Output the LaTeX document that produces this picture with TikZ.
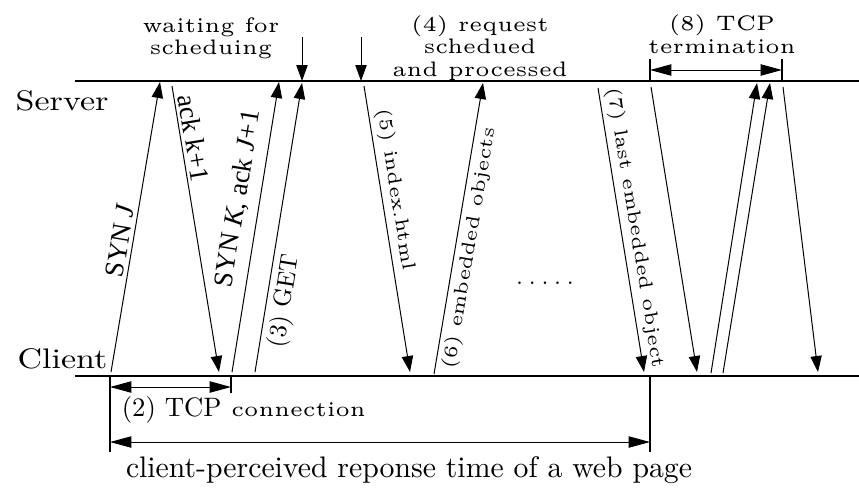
\documentclass[tikz,border=0pt]{standalone}
\usepackage{fontspec}
\newfontfamily\timesf{Liberation Serif}
\usetikzlibrary{arrows.meta}
\begin{document}
\begin{tikzpicture}[x=0.75pt,y=-0.75pt,
  hlab/.style={font=\fontsize{5}{5.36}\selectfont, scale=3.15, inner sep=0pt, align=center},
  plain/.style={font=\fontsize{10}{12}\selectfont, inner sep=0pt},
  rlab/.style={font=\fontsize{5}{6}\selectfont, scale=2.85, sloped, inner sep=0.9pt},
  tlab/.style={font=\timesf\fontsize{20.3}{24}\selectfont, sloped, inner sep=2.5pt},
  big/.style={font=\fontsize{10}{12}\selectfont, xscale=2.55, yscale=2.12, inner sep=0pt},
  axisline/.style={line width=1.1pt},
  msg/.style={line width=0.75pt, -{Triangle[length=12pt,width=8.5pt]}},
  dimarrow/.style={line width=0.75pt, {Triangle[length=16pt,width=8.5pt]}-{Triangle[length=16pt,width=8.5pt]}},
  tickline/.style={line width=1.1pt}]

\useasboundingbox (0,0) rectangle (859,487);
\fill[white] (0,0) rectangle (859,487);

% time lines
\coordinate (SL) at (75,81); \coordinate (SR) at (859,81);
\coordinate (CL) at (75,376); \coordinate (CR) at (859,376);
\draw[axisline] (SL) -- (SR);
\draw[axisline] (CL) -- (CR);
\node[big, anchor=base west] (server) at (15,110) {Server};
\node[big, anchor=base west] (client) at (17,368) {Client};

% end points of messages
\coordinate (c1) at (111,372);  \coordinate (s1) at (160,82);
\coordinate (s2) at (172,86);   \coordinate (c2) at (219,372);
\coordinate (c3) at (232,372);  \coordinate (s3) at (279,82);
\coordinate (c4) at (255,372);  \coordinate (s4) at (302,83);
\coordinate (w1) at (302,37);   \coordinate (w1e) at (302,81);
\coordinate (w2) at (361,37);   \coordinate (w2e) at (361,81);
\coordinate (s5) at (364,86);   \coordinate (c5) at (410,372);
\coordinate (c6) at (434,374);  \coordinate (s6) at (483,83);
\coordinate (s7) at (598,88);   \coordinate (c7) at (644,372);
\coordinate (s8) at (651,87);   \coordinate (c8) at (697,372);
\coordinate (c9) at (711,373);  \coordinate (s9) at (757,83);
\coordinate (c10) at (723,373); \coordinate (s10) at (770,83);
\coordinate (s11) at (783,87);  \coordinate (c11) at (818,372);

% messages
\draw[msg] (c1) -- node[tlab, pos=0.445, above] (synj) {SYN \textit{J}} (s1);
\draw[msg] (s2) -- node[tlab, pos=0.19, above] (ack) {ack k+1} (c2);
\draw[msg] (c3) -- node[tlab, pos=0.586, above, inner sep=7pt] (synk) {SYN \textit{K}, ack \textit{J}+1} (s3);
\draw[msg] (c4) -- node[plain, scale=1.85, sloped, pos=0.256, below, inner sep=2pt] (get) {(3) GET} (s4);
\draw[msg] (w1) -- (w1e);
\draw[msg] (w2) -- (w2e);
\draw[msg] (s5) -- node[rlab, pos=0.37, above] (index) {(5) index.html} (c5);
\draw[msg] (c6) -- node[rlab, pos=0.44, below] (emb) {(6) embedded objects} (s6);
\draw[msg] (s7) -- node[rlab, pos=0.5, above] (last) {(7) last embedded object} (c7);
\draw[msg] (s8) -- (c8);
\draw[msg] (c9) -- (s9);
\draw[msg] (c10) -- (s10);
\draw[msg] (s11) -- (c11);

\node[hlab, anchor=base] (dots) at (545,284) {.\kern1pt.\kern1pt.\kern1pt.\kern1pt.};

% top labels
\node[hlab, anchor=north] (wait) at (211,16.5) {waiting for\\scheduing};
\node[hlab, anchor=north] (req) at (480,14.5) {(4) request\\schedued\\and processed};
\node[hlab, anchor=north] (term) at (722,14) {(8) TCP\\termination};

% TCP termination dimension
\coordinate (t1a) at (650,59); \coordinate (t1b) at (650,81);
\coordinate (t2a) at (782,59); \coordinate (t2b) at (782,81);
\coordinate (t1m) at (650,70); \coordinate (t2m) at (782,70);
\draw[tickline] (t1a) -- (t1b);
\draw[tickline] (t2a) -- (t2b);
\draw[dimarrow] (t1m) -- (t2m);

% bottom dimensions
\coordinate (b1a) at (110,376); \coordinate (b1b) at (110,452);
\coordinate (b2a) at (231,376); \coordinate (b2b) at (231,393);
\coordinate (b3a) at (650,376); \coordinate (b3b) at (650,452);
\coordinate (d1l) at (110,387); \coordinate (d1r) at (231,387);
\coordinate (d2l) at (110,442); \coordinate (d2r) at (650,442);
\draw[tickline] (b1a) -- (b1b);
\draw[tickline] (b2a) -- (b2b);
\draw[tickline] (b3a) -- (b3b);
\draw[dimarrow] (d1l) -- (d1r);
\draw[dimarrow] (d2l) -- (d2r);
\node[hlab, anchor=base west] (tcpconn) at (121,416) {\scalebox{0.635}{\fontsize{10}{12}\selectfont (2) TCP} connection};
\node[plain, scale=2.23, anchor=base] (resp) at (409,477) {client-perceived reponse time of a web page};
\end{tikzpicture}
\end{document}
